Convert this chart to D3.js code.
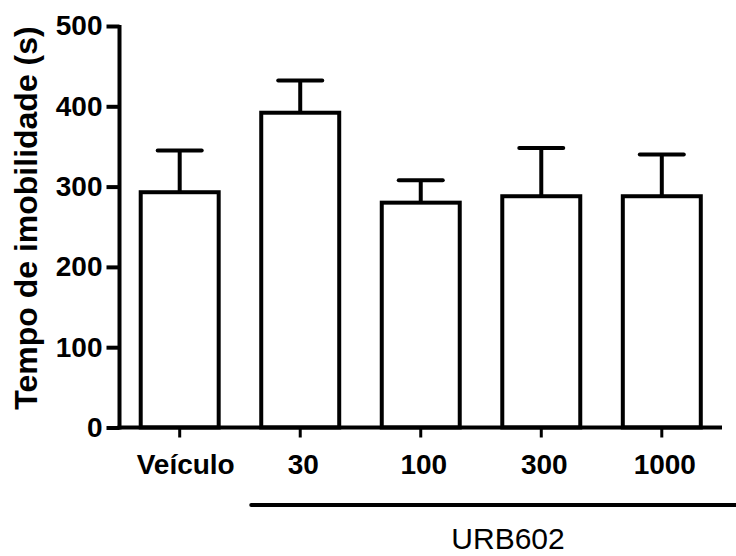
<!DOCTYPE html>
<html>
<head>
<meta charset="utf-8">
<script src="https://cdnjs.cloudflare.com/ajax/libs/d3/7.8.5/d3.min.js"></script>
<style>
  body { margin: 0; background: #fff; }
  text { font-family: Arial, "Liberation Sans", sans-serif; fill: #000; }
</style>
</head>
<body>
<svg id="chart"></svg>
<script>

//data
var groups = ["Veículo", "30", "100", "300", "1000"];
var means = [293, 392, 280, 288, 288];
var errors = [52, 40, 28, 60, 52];
var yTicks = [0, 100, 200, 300, 400, 500];

var yLabel = "Tempo de imobilidade (s)";
var bracketLabel = "URB602";

var width = 736;
var height = 556;
var plotLeft = 119.5;
var plotRight = 722;
var plotTop = 26;
var plotBottom = 427.5;

var svg = d3.select("#chart")
      .attr("width", width)
      .attr("height", height);

//scales
var xScale = d3.scaleBand()
      .domain(groups)
      .range([plotLeft, plotRight])
      .paddingInner(0.353)
      .paddingOuter(0.176);

var yScale = d3.scaleLinear()
      .domain([0, 500])
      .range([plotBottom, plotTop]);

var dataset = groups.map(function(g, i) {
  return { group: g, mean: means[i], err: errors[i] };
});

//bars
svg.selectAll("rect.bar")
   .data(dataset)
   .enter()
   .append("rect")
   .attr("class", "bar")
   .attr("x", function(d) { return xScale(d.group); })
   .attr("y", function(d) { return yScale(d.mean); })
   .attr("width", xScale.bandwidth())
   .attr("height", function(d) { return yScale(0) - yScale(d.mean); })
   .attr("fill", "#fff")
   .attr("stroke", "#000")
   .attr("stroke-width", 4);

//error bars (upper only)
var cx = function(d) { return xScale(d.group) + xScale.bandwidth() / 2; };

svg.selectAll("line.err")
   .data(dataset)
   .enter()
   .append("line")
   .attr("class", "err")
   .attr("x1", cx)
   .attr("x2", cx)
   .attr("y1", function(d) { return yScale(d.mean); })
   .attr("y2", function(d) { return yScale(d.mean + d.err); })
   .attr("stroke", "#000")
   .attr("stroke-width", 4);

svg.selectAll("line.cap")
   .data(dataset)
   .enter()
   .append("line")
   .attr("class", "cap")
   .attr("x1", function(d) { return cx(d) - 22; })
   .attr("x2", function(d) { return cx(d) + 22; })
   .attr("y1", function(d) { return yScale(d.mean + d.err); })
   .attr("y2", function(d) { return yScale(d.mean + d.err); })
   .attr("stroke", "#000")
   .attr("stroke-width", 4)
   .attr("stroke-linecap", "round");

//Y axis
var yAxis = d3.axisLeft(yScale)
      .tickValues(yTicks)
      .tickSize(13)
      .tickPadding(4);

var gy = svg.append("g")
      .attr("transform", "translate(" + plotLeft + ",0)")
      .call(yAxis);

gy.select(".domain").remove();
gy.append("line")
  .attr("x1", 0).attr("x2", 0)
  .attr("y1", yScale(500) - 1).attr("y2", yScale(0) + 2)
  .attr("stroke", "#000")
  .attr("stroke-width", 4);
gy.selectAll(".tick line").attr("stroke", "#000").attr("stroke-width", 4);
gy.selectAll(".tick text")
  .attr("font-size", "28px")
  .attr("font-weight", "bold")
  .attr("font-family", "Arial, 'Liberation Sans', sans-serif")
  .attr("fill", "#000");

//X axis
var xAxis = d3.axisBottom(xScale)
      .tickSize(10)
      .tickPadding(17);

var gx = svg.append("g")
      .attr("transform", "translate(0," + plotBottom + ")")
      .call(xAxis);

gx.select(".domain").remove();
gx.append("line")
  .attr("x1", plotLeft - 2).attr("x2", plotRight)
  .attr("y1", 0).attr("y2", 0)
  .attr("stroke", "#000")
  .attr("stroke-width", 4);
gx.selectAll(".tick line").attr("stroke", "#000").attr("stroke-width", 3);
gx.selectAll(".tick text")
  .attr("font-size", "28px")
  .attr("font-weight", "bold")
  .attr("font-family", "Arial, 'Liberation Sans', sans-serif")
  .attr("fill", "#000")
  .attr("dx", function(d, i) { return i === 0 ? 6 : 3; });

//bracket under the URB602 doses
svg.append("line")
   .attr("x1", xScale("30") - 10)
   .attr("x2", width)
   .attr("y1", 505)
   .attr("y2", 505)
   .attr("stroke", "#000")
   .attr("stroke-width", 4)
   .attr("stroke-linecap", "round");

svg.append("text")
   .attr("x", 508)
   .attr("y", 549)
   .attr("text-anchor", "middle")
   .attr("font-size", "30px")
   .text(bracketLabel);

//y-axis label
svg.append("text")
   .attr("transform", "translate(37," + 218 + ") rotate(-90)")
   .attr("text-anchor", "middle")
   .attr("font-size", "32px")
   .attr("font-weight", "bold")
   .text(yLabel);

</script>
</body>
</html>
